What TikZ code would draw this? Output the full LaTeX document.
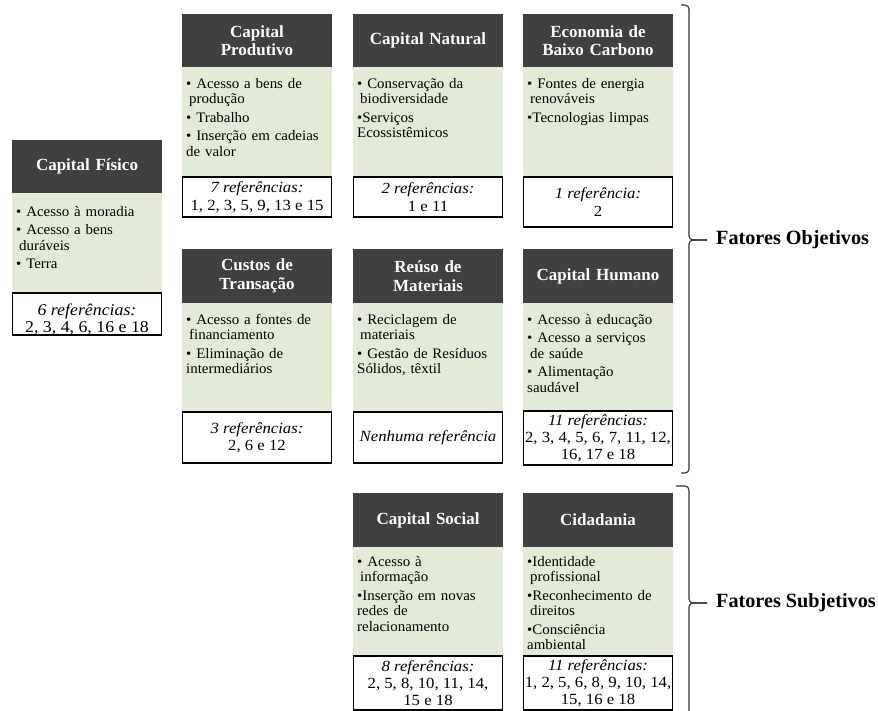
\documentclass[tikz,border=0pt]{standalone}
\usepackage{fontspec}
\setmainfont{Liberation Serif}
\newfontfamily\bodyf[FakeStretch=1.03]{Liberation Serif}
\newfontfamily\reff[FakeStretch=1.08]{Liberation Serif}
\definecolor{hdrgray}{HTML}{404040}
\definecolor{lgreen}{HTML}{E2EBD8}
\definecolor{bracegray}{HTML}{333333}
\newcommand\itm[1]{\par\hangindent=3pt\hangafter=1\noindent\textbullet\ #1}
\newcommand\itn[1]{\par\hangindent=3pt\hangafter=1\noindent\textbullet#1}
\newcommand\reffontsize{\fontsize{15.5}{17.5}\selectfont}
\newcommand\toff{2.5}
\newcommand\refdy{0pt}
\tikzset{
  hdr/.style={rectangle, fill=hdrgray, text=white, inner sep=0pt, minimum width=150pt,
    text width=146pt, align=center, font=\bfseries\fontsize{17}{18.5}\selectfont},
  grn/.style={rectangle, fill=lgreen, inner sep=0pt, minimum width=150pt},
  refbox/.style={rectangle, fill=white, draw=black, line width=1.1pt, inner sep=0pt,
    minimum width=149pt},
  reftext/.style={inner sep=0pt, align=center, font=\reff\reffontsize},
  items/.style={inner sep=0pt, text width=152pt, align=left,
    font=\bodyf\fontsize{14.5}{15.5}\selectfont\setlength{\parskip}{3pt}},
  bracket/.style={draw=bracegray, line width=1.1pt},
  fator/.style={inner sep=0pt, font=\bfseries\fontsize{20.2}{22}\selectfont}
}
% name, x, header top, header bottom, green bottom, white bottom, header, items, refs
\newcommand\card[9]{%
  \node[hdr, minimum height={#4-#3}] (#1h) at ({#2+75},{(#3+#4)/2}) {#7};
  \node[grn, minimum height={#5-#4}] (#1g) at ({#2+75},{(#4+#5)/2}) {};
  \node[refbox, minimum height={#6-#5}] (#1r) at ({#2+75},{(#5+#6)/2}) {};
  \node[reftext] (#1rt) at ([yshift=\refdy]#1r.center) {#9};
  \node[items, anchor=north west] (#1t) at ({#2+4},{#4+\toff}) {#8};
}
\begin{document}
\begin{tikzpicture}[x=1pt,y=-1pt]
\useasboundingbox[fill=white] (0,0) rectangle (878,711);

\renewcommand\reffontsize{\fontsize{16.5}{17}\selectfont}
\renewcommand\refdy{-5pt}
\renewcommand\toff{4.5}
\card{fis}{12}{140}{193}{293}{335}{Capital Físico}
  {\itm{Acesso à moradia}\itm{Acesso a bens\newline duráveis}\itm{Terra}}
  {\textit{6 referências:}\\2, 3, 4, 6, 16 e 18}
\renewcommand\reffontsize{\fontsize{15.5}{17.5}\selectfont}
\renewcommand\refdy{0pt}
\renewcommand\toff{2.5}

\card{pro}{182}{14}{67}{177}{217}{Capital\\Produtivo}
  {\itm{Acesso a bens de\newline produção}\itm{Trabalho}\itm{Inserção em cadeias\newline de valor}}
  {\textit{7 referências:}\\1, 2, 3, 5, 9, 13 e 15}

\card{nat}{353}{14}{67}{177}{217}{Capital Natural}
  {\itm{Conservação da\newline biodiversidade}\itn{Serviços\newline Ecossistêmicos}}
  {\textit{2 referências:}\\1 e 11}

\card{eco}{523}{14}{67}{177}{227}{Economia de\\Baixo Carbono}
  {\itm{Fontes de energia\newline renováveis}\itn{Tecnologias limpas}}
  {\textit{1 referência:}\\2}

\card{cus}{182}{249}{303}{412}{463}{Custos de\\Transação}
  {\itm{Acesso a fontes de\newline financiamento}\itm{Eliminação de\newline intermediários}}
  {\textit{3 referências:}\\2, 6 e 12}

\card{reu}{353}{249}{303}{412}{463}{Reúso de\\Materiais}
  {\itm{Reciclagem de\newline materiais}\itm{Gestão de Resíduos\newline Sólidos, têxtil}}
  {\textit{Nenhuma referência}}

\renewcommand\reffontsize{\fontsize{15.5}{17}\selectfont}
\card{hum}{523}{249}{303}{411}{465}{Capital Humano}
  {\itm{Acesso à educação}\itm{Acesso a serviços\newline de saúde}\itm{Alimentação\newline saudável}}
  {\textit{11 referências:}\\2, 3, 4, 5, 6, 7, 11, 12,\\16, 17 e 18}

\renewcommand\toff{0.5}
\card{soc}{353}{493}{547}{656}{710}{Capital Social}
  {\itm{Acesso à\newline informação}\itn{Inserção em novas\newline redes de\newline relacionamento}}
  {\textit{8 referências:}\\2, 5, 8, 10, 11, 14,\\15 e 18}

\card{cid}{523}{493}{547}{656}{710}{Cidadania}
  {\itn{Identidade\newline profissional}\itn{Reconhecimento de\newline direitos}\itn{Consciência\newline ambiental}}
  {\textit{11 referências:}\\1, 2, 5, 6, 8, 9, 10, 14,\\15, 16 e 18}

% labels
\node[fator, anchor=west] (fo) at (716,240) {Fatores Objetivos};
\node[fator, anchor=west] (fs) at (716,603) {Fatores Subjetivos};

% brackets
\coordinate (b1t) at (681,5);
\coordinate (b1b) at (681,473);
\coordinate (b2t) at (676,486);
\coordinate (b2b) at (689,716);
\draw[bracket] (b1t) -- (685,5) to[out=0,in=90] (689,9) -- (689,236)
  to[out=-90,in=180] (693,240) -- (fo.west -| 707,0);
\draw[bracket] (707,240) -- (693,240) to[out=180,in=90] (689,244) -- (689,469)
  to[out=-90,in=0] (685,473) -- (b1b);
\draw[bracket] (b2t) -- (685,486) to[out=0,in=90] (689,490) -- (689,599)
  to[out=-90,in=180] (693,603) -- (fs.west -| 707,0);
\draw[bracket] (707,603) -- (693,603) to[out=180,in=90] (689,607) -- (b2b);
\end{tikzpicture}
\end{document}
